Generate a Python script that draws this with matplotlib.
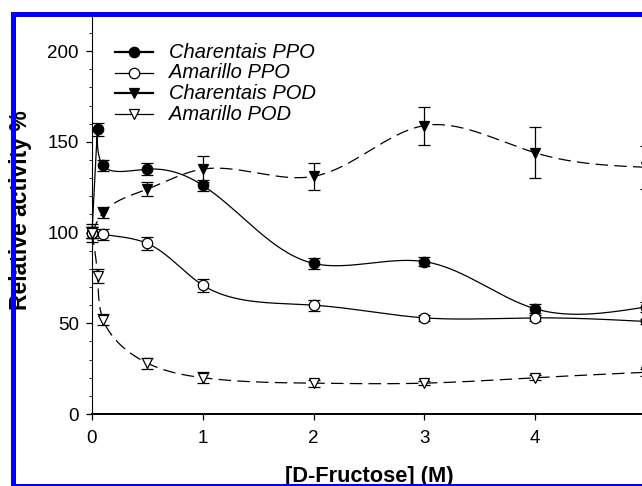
import numpy as np
import matplotlib
matplotlib.use("Agg")
import matplotlib.pyplot as plt
from matplotlib.patches import Rectangle
from matplotlib.lines import Line2D
from matplotlib.ticker import MultipleLocator

plt.rcParams['font.family'] = ['Liberation Sans', 'DejaVu Sans']

# data (x = [D-Fructose] in M, y = relative activity %)
x_char_ppo = [0, 0.05, 0.1, 0.5, 1, 2, 3, 4, 5]
char_ppo = [100, 157, 137, 135, 126, 83, 84, 58, 59]
char_ppo_err = [3, 3.5, 3, 3.5, 3, 3, 2.5, 2.5, 3]

x_am_ppo = [0, 0.1, 0.5, 1, 2, 3, 4, 5]
am_ppo = [100, 99, 94, 71, 60, 53, 53, 51]
am_ppo_err = [3, 3, 3.5, 3.5, 3, 1.5, 1.5, 1.5]

x_char_pod = [0, 0.1, 0.5, 1, 2, 3, 4, 5]
char_pod = [100, 111, 124, 135, 131, 159, 144, 136]
char_pod_err = [5, 3, 4, 7, 7.5, 10.5, 14, 12]

x_am_pod = [0, 0.05, 0.1, 0.5, 1, 2, 3, 4, 5]
am_pod = [100, 76, 52, 28, 20, 17, 17, 20, 23]
am_pod_err = [3, 4, 3, 3, 3, 2, 1, 1.5, 2]

labels = ["Charentais PPO", "Amarillo PPO", "Charentais POD", "Amarillo POD"]
x_ticks = [0, 1, 2, 3, 4]
y_ticks = [0, 50, 100, 150, 200]

W, H = 642, 486
# axis: x 0 at px 92, 1 unit = 110.8 px ; y 0 at px 414, 1 unit = 1.814 px
x0_px, y0_px = 92, 414
ux, uy = 110.8, 1.814
xmax, ymax = 5.0, 220.0


def natural_coeffs(t, v):
    k = len(t)
    h = np.diff(t)
    A = np.zeros((k, k))
    b = np.zeros(k)
    A[0, 0] = A[-1, -1] = 1
    for i in range(1, k - 1):
        A[i, i - 1] = h[i - 1]
        A[i, i] = 2 * (h[i - 1] + h[i])
        A[i, i + 1] = h[i]
        b[i] = 3 * ((v[i + 1] - v[i]) / h[i] - (v[i] - v[i - 1]) / h[i - 1])
    c = np.linalg.solve(A, b)
    bc = (v[1:] - v[:-1]) / h - h * (2 * c[:-1] + c[1:]) / 3
    d = (c[1:] - c[:-1]) / (3 * h)
    return bc, c, d


def smooth_curve(x, y, per_seg=60):
    # parametric cubic spline (chord length, in screen units) through the points
    px = np.asarray(x, float) * ux
    py = np.asarray(y, float) * uy
    t = np.concatenate([[0], np.cumsum(np.hypot(np.diff(px), np.diff(py)))])
    h = np.diff(t)
    out = []
    for v in (px, py):
        bc, c, d = natural_coeffs(t, v)
        seg = []
        for i in range(len(t) - 1):
            s = np.linspace(0, h[i], per_seg)
            seg.append(v[i] + bc[i] * s + c[i] * s ** 2 + d[i] * s ** 3)
        out.append(np.concatenate(seg))
    return out[0] / ux, out[1] / uy


fig = plt.figure(figsize=(W / 100, H / 100), dpi=100)
fig.patch.set_facecolor("white")
ax = fig.add_axes([x0_px / W, 1 - y0_px / H, xmax * ux / W, ymax * uy / H])
ax.set_xlim(0, xmax)
ax.set_ylim(0, ymax)

series = [
    (x_char_ppo, char_ppo, char_ppo_err, "o", "black", "-"),
    (x_am_ppo, am_ppo, am_ppo_err, "o", "white", "-"),
    (x_char_pod, char_pod, char_pod_err, "v", "black", "--"),
    (x_am_pod, am_pod, am_pod_err, "v", "white", "--"),
]

for xs, ys, es, mk, fc, ls in series:
    sx, sy = smooth_curve(xs, ys)
    line, = ax.plot(sx, sy, color="black", lw=0.9, clip_on=False, zorder=2)
    if ls == "--":
        line.set_dashes((10, 5))
    ax.errorbar(xs, ys, yerr=es, fmt="none", ecolor="black", elinewidth=0.9,
                capsize=4.5, capthick=0.9, clip_on=False, zorder=3)
    ax.plot(xs, ys, linestyle="none", marker=mk, ms=7.5, mfc=fc, mec="black",
            mew=0.9, clip_on=False, zorder=4)

for side in ["top", "right"]:
    ax.spines[side].set_visible(False)
ax.spines["bottom"].set_linewidth(1.4)
ax.spines["left"].set_linewidth(0.8)

ax.set_xticks(x_ticks)
ax.set_yticks(y_ticks)
ax.yaxis.set_minor_locator(MultipleLocator(10))
ax.tick_params(axis="both", which="major", direction="out", length=4.5,
               width=0.9, labelsize=13.5)
ax.tick_params(axis="x", pad=7)
ax.tick_params(axis="y", pad=5)
ax.tick_params(axis="y", which="minor", direction="out", length=2, width=0.6)

# legend drawn by hand (rows are tighter than matplotlib's legend allows)
for i, ((xs, ys, es, mk, fc, ls), lab) in enumerate(zip(series, labels)):
    yf = 1 - (52 + 20.7 * i) / H
    lw = 1.6 if fc == "black" else 0.9
    fig.add_artist(Line2D([115 / W, 153 / W], [yf, yf], color="black", lw=lw,
                          transform=fig.transFigure))
    fig.add_artist(Line2D([134 / W], [yf], marker=mk, ms=7.5, mfc=fc, mec="black",
                          mew=0.9, linestyle="none", transform=fig.transFigure))
    fig.text(169 / W, yf, lab, ha="left", va="center", fontsize=14.5, style="italic")

fig.text(369 / W, 1 - 482 / H, "[D-Fructose] (M)", ha="center", va="baseline",
         fontsize=15.7, fontweight="bold")
fig.text(20.5 / W, 1 - 210 / H, "Relative activity %", ha="center", va="center",
         rotation=90, fontsize=16.5, fontweight="bold")

# blue frame of the scanned figure
fig.add_artist(Rectangle((12.5 / W, 1 - 485.5 / H), (800 - 12.5) / W, (485.5 - 14.5) / H,
                         transform=fig.transFigure, fill=False, edgecolor="#0000ff",
                         lw=3.6, zorder=10, clip_on=False))

fig.savefig("out.png", dpi=100)
